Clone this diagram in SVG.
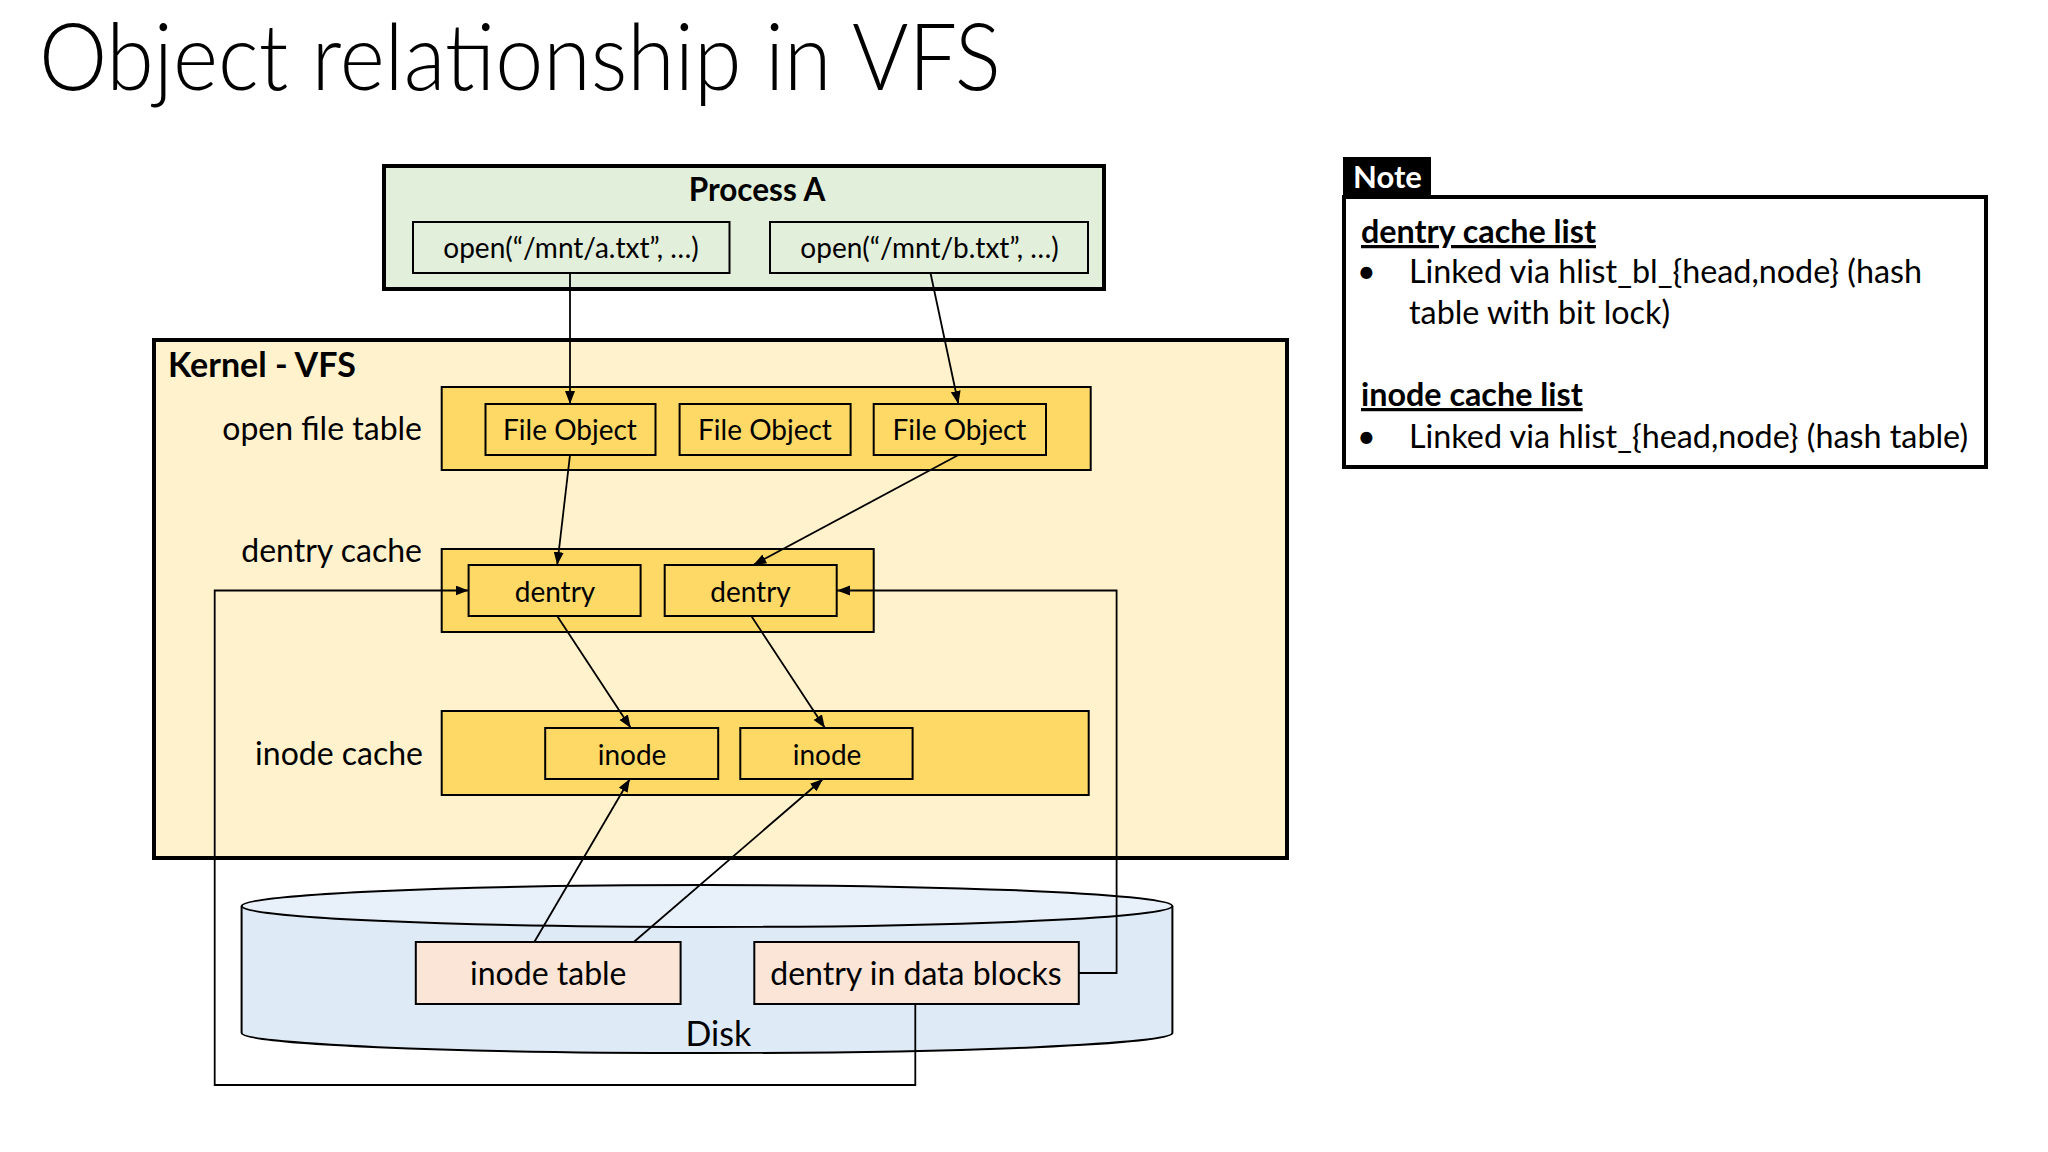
<svg xmlns="http://www.w3.org/2000/svg" width="2048" height="1152" viewBox="0 0 2048 1152">
<defs>
<style>
text{font-family:Lato,"Open Sans","Liberation Sans",sans-serif;fill:#000}
.title{font-size:92px;font-weight:300}
.b{font-weight:bold}
.box{stroke:#000;stroke-width:2}
.gold{fill:#FFD966}
.lab{font-size:32px;text-anchor:end}
.item{font-size:28px;text-anchor:middle}
.note{font-size:32.3px}
.conn{fill:none;stroke:#000;stroke-width:1.8}
</style>
<marker id="arr" markerUnits="userSpaceOnUse" markerWidth="14" markerHeight="12" refX="13" refY="5" orient="auto">
<path d="M0,0 L13,5 L0,10 z" fill="#000"/>
</marker>
</defs>
<rect width="2048" height="1152" fill="#fff"/>
<text class="title" x="39" y="90" textLength="962" lengthAdjust="spacingAndGlyphs">Object relationship in VFS</text>

<g id="process-a">
<rect x="384" y="166" width="720" height="123" fill="#E2EFDA" stroke="#000" stroke-width="4"/>
<text class="b" x="757" y="201" font-size="31.5" text-anchor="middle">Process A</text>
</g>
<g id="open-a">
<rect class="box" x="413" y="222" width="316.5" height="51" fill="#E2EFDA"/>
<text class="item" x="571" y="258" font-size="29">open(“/mnt/a.txt”, …)</text>
</g>
<g id="open-b">
<rect class="box" x="770" y="222" width="318" height="51" fill="#E2EFDA"/>
<text class="item" x="929.5" y="258" font-size="29">open(“/mnt/b.txt”, …)</text>
</g>

<g id="kernel-vfs">
<rect x="154" y="340" width="1133" height="518" fill="#FFF2CC" stroke="#000" stroke-width="4"/>
<text class="b" x="168" y="377" font-size="34">Kernel - VFS</text>
</g>

<g id="open-file-table">
<rect class="box gold" x="441.7" y="387" width="649" height="83"/>
<text class="lab" x="422" y="440">open file table</text>
</g>
<g id="file-object-1">
<rect class="box gold" x="485.5" y="404" width="170" height="51"/>
<text class="item" x="570" y="440">File Object</text>
</g>
<g id="file-object-2">
<rect class="box gold" x="679.6" y="404" width="171" height="51"/>
<text class="item" x="765" y="440">File Object</text>
</g>
<g id="file-object-3">
<rect class="box gold" x="873.7" y="404" width="172.3" height="51"/>
<text class="item" x="959.5" y="440">File Object</text>
</g>

<g id="dentry-cache">
<rect class="box gold" x="441.7" y="549" width="432" height="83"/>
<text class="lab" x="422" y="562">dentry cache</text>
</g>
<g id="dentry-1">
<rect class="box gold" x="468.6" y="565" width="172" height="51"/>
<text class="item" x="555" y="602">dentry</text>
</g>
<g id="dentry-2">
<rect class="box gold" x="664.7" y="565" width="172" height="51"/>
<text class="item" x="750.5" y="602">dentry</text>
</g>

<g id="inode-cache">
<rect class="box gold" x="441.7" y="711" width="647" height="84"/>
<text class="lab" x="423" y="765">inode cache</text>
</g>
<g id="inode-1">
<rect class="box gold" x="545.2" y="728" width="173" height="51"/>
<text class="item" x="632" y="765">inode</text>
</g>
<g id="inode-2">
<rect class="box gold" x="740.3" y="728" width="172.3" height="51"/>
<text class="item" x="827" y="765">inode</text>
</g>

<g id="disk">
<path d="M241.6,906 V1033 A465.4,20 0 0 0 1172.4,1033 V906" fill="#DEEBF7" stroke="#000" stroke-width="2"/>
<ellipse cx="707" cy="906" rx="465.4" ry="21" fill="#E8F0FA" stroke="#000" stroke-width="2"/>
<text x="718.4" y="1046" font-size="34" text-anchor="middle">Disk</text>
</g>
<g id="inode-table">
<rect class="box" x="415.8" y="942" width="264.8" height="62" fill="#FBE5D6"/>
<text x="548.3" y="985" font-size="32" text-anchor="middle">inode table</text>
</g>
<g id="dentry-in-data-blocks">
<rect class="box" x="754.3" y="942" width="324.5" height="62" fill="#FBE5D6"/>
<text x="916" y="985" font-size="32" text-anchor="middle">dentry in data blocks</text>
</g>

<g id="connectors">
<path class="conn" d="M570,273 L570,404" marker-end="url(#arr)"/>
<path class="conn" d="M930.5,273 L958.4,404" marker-end="url(#arr)"/>
<path class="conn" d="M570,455 L557.2,565" marker-end="url(#arr)"/>
<path class="conn" d="M958.4,455 L753.3,565" marker-end="url(#arr)"/>
<path class="conn" d="M557.2,616 L630.8,728" marker-end="url(#arr)"/>
<path class="conn" d="M751.3,616 L824.9,728" marker-end="url(#arr)"/>
<path class="conn" d="M534.3,942 L629.8,779" marker-end="url(#arr)"/>
<path class="conn" d="M633.8,942 L823,779" marker-end="url(#arr)"/>
<path class="conn" d="M1079,973 H1116.6 V590.5 H837" marker-end="url(#arr)"/>
<path class="conn" d="M915.3,1004 V1085 H214.7 V590.5 H468.6" marker-end="url(#arr)"/>
</g>

<g id="note">
<rect x="1343" y="157" width="88" height="39" fill="#000"/>
<text class="b" x="1353" y="188" font-size="31" style="fill:#fff">Note</text>
<rect x="1344" y="197" width="642" height="270" fill="#fff" stroke="#000" stroke-width="4"/>
<text class="note b" x="1361" y="243" text-decoration="underline">dentry cache list</text>
<text class="note" x="1357" y="283">•</text>
<text class="note" x="1409" y="283">Linked via hlist_bl_{head,node} (hash</text>
<text class="note" x="1409" y="324">table with bit lock)</text>
<text class="note b" x="1361" y="406" text-decoration="underline">inode cache list</text>
<text class="note" x="1357" y="448">•</text>
<text class="note" x="1409" y="448">Linked via hlist_{head,node} (hash table)</text>
</g>
</svg>
